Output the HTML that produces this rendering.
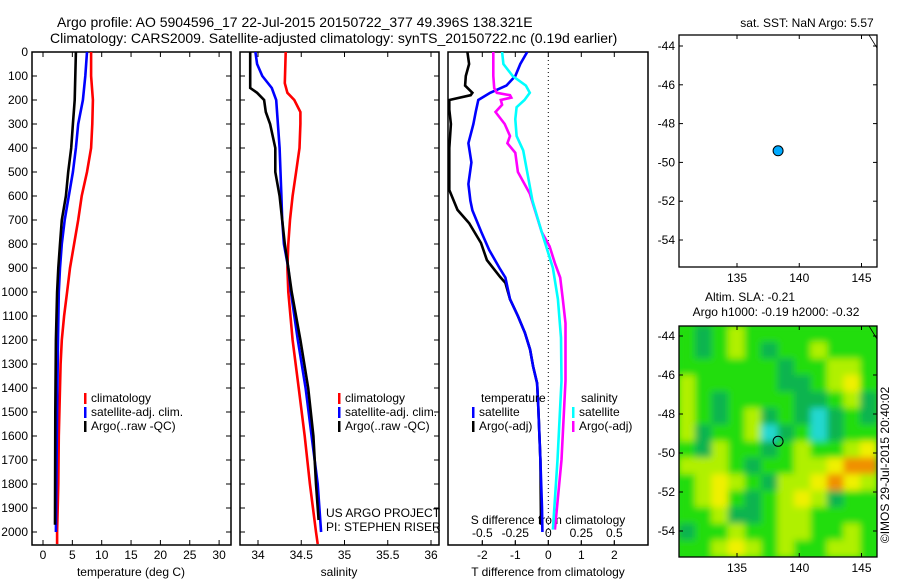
<!DOCTYPE html>
<html><head><meta charset="utf-8">
<style>
body{margin:0;background:#fff;}
svg{display:block;font-family:"Liberation Sans",sans-serif;font-size:12px;}
text{fill:#000;}
</style></head>
<body>
<svg id="fig" width="900" height="580" viewBox="0 0 900 580" xmlns="http://www.w3.org/2000/svg">
<defs>
<clipPath id="c1"><rect x="32" y="52" width="199" height="493"/></clipPath>
<clipPath id="c2"><rect x="240" y="52" width="199" height="493"/></clipPath>
<clipPath id="c3"><rect x="448" y="52" width="200" height="493"/></clipPath>
<clipPath id="cm"><rect x="679" y="326" width="198" height="231"/></clipPath>
<filter id="blur" x="0" y="0" width="100%" height="100%"><feGaussianBlur stdDeviation="3.5"/></filter>
</defs>
<text x="57" y="27" style="font-size:14px">Argo profile: AO 5904596_17 22-Jul-2015 20150722_377 49.396S 138.321E</text>
<text x="50" y="43" style="font-size:14px">Climatology: CARS2009. Satellite-adjusted climatology: synTS_20150722.nc (0.19d earlier)</text>
<g id="plots"></g>
</svg>
<script>
// ---- data ----
const tDepth = [0,100,200,300,400,500,600,700,800,900,1000,1100,1200,1300,1400,1600,1800,2000,2050];
const tClim  = [8.2,8.2,8.5,8.4,8.2,7.5,6.6,6.0,5.3,4.6,4.1,3.6,3.2,3.0,2.9,2.7,2.6,2.4,2.4];
const tSatDepth = [0,100,200,300,400,500,600,700,800,900,1000,1200,1500,2000];
const tSat  = [7.5,7.2,6.8,6.0,5.6,5.1,4.4,3.7,3.2,2.9,2.7,2.55,2.4,2.2];
const tArgoDepth = [0,200,300,400,500,600,700,800,900,1000,1200,1500,1970];
const tArgo = [5.6,5.4,5.1,4.8,4.3,3.9,3.2,2.9,2.6,2.4,2.2,2.1,2.05];

const sClimDepth = [0,130,170,200,250,300,400,500,600,700,800,900,1000,1200,1400,1600,1800,2000,2050];
const sClim = [34.32,34.31,34.34,34.42,34.49,34.49,34.48,34.44,34.40,34.37,34.35,34.34,34.35,34.40,34.47,34.54,34.60,34.67,34.69];
const sSatDepth = [0,50,100,150,200,300,400,500,600,700,800,900,1000,1200,1400,1600,1800,2000];
const sSat = [33.97,33.99,34.05,34.16,34.21,34.23,34.25,34.26,34.27,34.28,34.30,34.35,34.38,34.46,34.55,34.62,34.69,34.73];
const sArgoDepth = [0,150,170,200,250,300,400,500,600,700,800,900,1000,1200,1400,1600,1800,1950];
const sArgo = [33.91,33.91,33.99,34.07,34.09,34.14,34.20,34.20,34.25,34.28,34.31,34.35,34.39,34.49,34.58,34.64,34.67,34.70];

const dtArgoDepth = [0,50,100,140,170,180,200,240,300,400,500,575,658,713,796,867,937,962,1030,1100,1170,1240,1310,1380,1460,1700,1970];
const dtArgo = [-2.45,-2.4,-2.5,-2.52,-2.3,-2.35,-3.0,-3.0,-2.95,-3.0,-3.0,-3.0,-2.75,-2.4,-2.04,-1.86,-1.46,-1.3,-1.16,-0.92,-0.71,-0.55,-0.46,-0.34,-0.31,-0.24,-0.22];
const dtSatDepth = [0,50,100,140,170,200,250,300,380,460,550,620,660,750,825,900,940,1030,1100,1170,1240,1310,1380,1460,1700,1900,2000];
const dtSat = [-0.64,-0.85,-1.0,-1.27,-1.76,-2.12,-2.2,-2.27,-2.42,-2.33,-2.42,-2.36,-2.3,-2.03,-1.79,-1.48,-1.3,-1.16,-0.92,-0.71,-0.55,-0.46,-0.34,-0.31,-0.24,-0.19,-0.18];
const dsArgoDepth = [0,100,150,170,180,190,200,220,250,300,350,380,420,500,590,750,810,880,940,1030,1130,1370,1700,1990];
const dsArgo = [-0.417,-0.417,-0.41,-0.39,-0.29,-0.28,-0.36,-0.35,-0.40,-0.33,-0.29,-0.31,-0.25,-0.23,-0.14,-0.05,0.01,0.05,0.09,0.11,0.13,0.13,0.1,0.05];
const dsSatDepth = [0,50,100,140,170,200,230,280,350,410,620,750,900,1030,1190,1370,1700,1990];
const dsSat = [-0.35,-0.34,-0.27,-0.17,-0.14,-0.18,-0.24,-0.25,-0.24,-0.19,-0.12,-0.05,0.035,0.073,0.096,0.1,0.07,0.035];

const depthTicks = [0,100,200,300,400,500,600,700,800,900,1000,1100,1200,1300,1400,1500,1600,1700,1800,1900,2000];
const tTicks = [0,5,10,15,20,25,30];
const sTicks = [34,34.5,35,35.5,36];
const sTickLabels = ["34","34.5","35","35.5","36"];
const dtTicks = [-2,-1,0,1,2];
const dsTicks = [-0.5,-0.25,0,0.25,0.5];
const dsTickLabels = ["-0.5","-0.25","0","0.25","0.5"];
const latTicks = [-44,-46,-48,-50,-52,-54];
const lonTicks = [135,140,145];
const argoLon = [138.3];
const argoLat = [-49.4];
// SLA heatmap (coarse, rows top->bottom, -2 cyan ... 3 orange)
const slaGrid = [
 [0,-1,0,1,0,0,0,0,0,0,0,0],
 [0,-1,0,1,0,-1,0,0,1,0,0,0],
 [0,0,0,0,0,0,-1,0,0,1,1,0],
 [1,0,0,0,0,0,-1,-1,0,1,2,0],
 [1,0,-1,0,0,0,0,-1,-1,0,1,-1],
 [1,0,-1,0,1,-1,0,-1,-2,-1,0,-1],
 [1,-1,0,0,1,-2,-1,0,-2,-1,0,0],
 [0,-1,1,0,0,-1,0,1,0,0,1,2],
 [1,1,1,0,-1,0,0,1,1,2,3,3],
 [0,1,2,1,0,-1,1,1,2,3,2,1],
 [0,1,2,0,-1,0,1,2,1,-1,0,0],
 [0,0,1,-1,-1,0,1,1,0,0,0,0],
 [-1,0,0,1,0,0,1,1,0,0,1,0],
 [0,0,1,2,1,0,1,0,0,1,1,0]
];

// ---- helpers ----
const NS="http://www.w3.org/2000/svg";
const root=document.getElementById('plots');
function mk(tag,attrs,parent){const e=document.createElementNS(NS,tag);for(const k in attrs)e.setAttribute(k,attrs[k]);(parent||root).appendChild(e);return e;}
const Y=d=>52+d*0.24;
const xT=v=>43+v*5.87;
const xS=v=>258+(v-34)*86.5;
const xDT=v=>548.3+v*33;
const xDS=v=>548.3+v*132;
const lonX=v=>737+(v-135)*12.45;
const lat1Y=v=>46+(-44-v)*19.4;
const lat2Y=v=>336+(-44-v)*19.5;

function line(xs,ds,fx,color,clip,name){
  const pts=xs.map((v,i)=>fx(v).toFixed(1)+','+Y(ds[i]).toFixed(1)).join(' ');
  const p=mk('polyline',{points:pts,fill:'none',stroke:color,'stroke-width':2.6,'clip-path':'url(#'+clip+')'});
  
  
}
function panel(x0,name){
  const g=mk('rect',{x:x0,y:52,width:199,height:493,fill:'none',stroke:'#000','stroke-width':1.5});
  
  
  depthTicks.forEach(d=>{mk('line',{x1:x0,x2:x0+5,y1:Y(d),y2:Y(d),stroke:'#000'});mk('line',{x1:x0+199,x2:x0+194,y1:Y(d),y2:Y(d),stroke:'#000'});});
}
function xticks(vals,labels,fx,y,name){
  vals.forEach((v,i)=>{
    const x=fx(v);
    mk('line',{x1:x,x2:x,y1:545,y2:540,stroke:'#000'});
    mk('line',{x1:x,x2:x,y1:52,y2:57,stroke:'#000'});
    const t=mk('text',{x:x,y:y,'text-anchor':'middle'});t.textContent=labels[i];
    
    
  });
}
function label(txt,x,y,name,anchor){const t=mk('text',{x:x,y:y,'text-anchor':anchor||'start'});t.textContent=txt;
  
  return t;}
function legendItem(x,y,color,txt){
  const r=mk('rect',{x:x,y:y-9,width:2.5,height:11,fill:color});
  
  
  label(txt,x+7,y,'legend-entry');
}

// panel 1
panel(32,'temperature-panel');
depthTicks.forEach(d=>label(String(d),28,Y(d)+4,'depth-tick-label','end'));
xticks(tTicks,tTicks.map(String),xT,559,'temperature-tick-label');
line(tClim,tDepth,xT,'#ff0000','c1','temperature-climatology-line');
line(tSat,tSatDepth,xT,'#0000ff','c1','temperature-satellite-line');
line(tArgo,tArgoDepth,xT,'#000000','c1','temperature-argo-line');
label('temperature (deg C)',131,576,'x-axis-title-temperature','middle');
legendItem(84,402,'#ff0000','climatology');
legendItem(84,416,'#0000ff','satellite-adj. clim.');
legendItem(84,430,'#000000','Argo(..raw -QC)');

// panel 2
panel(240,'salinity-panel');
xticks(sTicks,sTickLabels,xS,559,'salinity-tick-label');
line(sClim,sClimDepth,xS,'#ff0000','c2','salinity-climatology-line');
line(sSat,sSatDepth,xS,'#0000ff','c2','salinity-satellite-line');
line(sArgo,sArgoDepth,xS,'#000000','c2','salinity-argo-line');
label('salinity',339,576,'x-axis-title-salinity','middle');
legendItem(338,402,'#ff0000','climatology');
legendItem(338,416,'#0000ff','satellite-adj. clim.');
legendItem(338,430,'#000000','Argo(..raw -QC)');
label('US ARGO PROJECT',326,517,'project-label');
label('PI: STEPHEN RISER',326,531,'pi-label');

// panel 3
const p3=mk('rect',{x:448,y:52,width:200,height:493,fill:'none',stroke:'#000','stroke-width':1.5});


mk('line',{x1:548.3,x2:548.3,y1:52,y2:545,stroke:'#000','stroke-dasharray':'1,3'});
dtTicks.forEach(v=>{const x=xDT(v);mk('line',{x1:x,x2:x,y1:545,y2:540,stroke:'#000'});mk('line',{x1:x,x2:x,y1:52,y2:57,stroke:'#000'});
  label(String(v),x,559,'t-diff-tick-label','middle');});
dsTicks.forEach((v,i)=>{const x=xDS(v);mk('line',{x1:x,x2:x,y1:541,y2:545,stroke:'#000'});
  label(dsTickLabels[i],x,537,'s-diff-tick-label','middle');});
label('S difference from climatology',548,524,'s-diff-axis-title','middle');
line(dtArgo,dtArgoDepth,xDT,'#000000','c3','t-diff-argo-line');
line(dtSat,dtSatDepth,xDT,'#0000ff','c3','t-diff-satellite-line');
line(dsArgo,dsArgoDepth,xDS,'#ff00ff','c3','s-diff-argo-line');
line(dsSat,dsSatDepth,xDS,'#00ffff','c3','s-diff-satellite-line');
label('T difference from climatology',548,576,'t-diff-axis-title','middle');
label('temperature',481,402,'legend-title-temperature');
label('salinity',581,402,'legend-title-salinity');
legendItem(472,416,'#0000ff','satellite');
legendItem(472,430,'#000000','Argo(-adj)');
legendItem(572,416,'#00ffff','satellite');
legendItem(572,430,'#ff00ff','Argo(-adj)');

// maps
function mapFrame(top,h,latY,name){
  const r=mk('rect',{x:679,y:top,width:198,height:h,fill:'none',stroke:'#000','stroke-width':1.3});
  
  
  latTicks.forEach(v=>{const y=latY(v);mk('line',{x1:679,x2:683,y1:y,y2:y,stroke:'#000'});mk('line',{x1:877,x2:873,y1:y,y2:y,stroke:'#000'});
    label(String(v),675,y+4,'latitude-tick-label','end');});
  lonTicks.forEach(v=>{const x=lonX(v);mk('line',{x1:x,x2:x,y1:top+h,y2:top+h-4,stroke:'#000'});mk('line',{x1:x,x2:x,y1:top,y2:top+4,stroke:'#000'});
    label(String(v),x,top+h+15,'longitude-tick-label','middle');});
}
// SLA heatmap
const colors={'-2':'#20d8d0','-1':'#10b450','0':'#20dd10','1':'#b0f000','2':'#f0f000','3':'#f09000'};
const hg=mk('g',{'clip-path':'url(#cm)'});


mk('rect',{x:679,y:326,width:198,height:231,fill:'#20dd10'},hg);
const hb=mk('g',{filter:'url(#blur)'},hg);
const cw=198/12, ch=231/14;
slaGrid.forEach((row,r)=>row.forEach((v,c)=>{
  const cell=mk('rect',{x:679+c*cw-0.5,y:326+r*ch-0.5,width:cw+1,height:ch+1,fill:colors[String(v)]},hb);
  
  
}));
mapFrame(35,232,lat1Y,'sst-map');
mapFrame(326,231,lat2Y,'sla-map');
mk('path',{d:'M869 35 L877 48 L877 35',fill:'none',stroke:'#000','stroke-width':0.8});
mk('path',{d:'M869 326 L877 339 L877 326',fill:'none',stroke:'#000','stroke-width':0.8});
argoLon.forEach((lon,i)=>{
  const m1=mk('circle',{cx:lonX(lon),cy:lat1Y(argoLat[i]),r:5,fill:'#00aaff',stroke:'#000','stroke-width':1});
  
  
  const m2=mk('circle',{cx:lonX(lon),cy:lat2Y(argoLat[i]),r:5,fill:'none',stroke:'#000','stroke-width':1});
  
  
});
label('sat. SST: NaN Argo: 5.57',807,27,'sst-map-title','middle');
label('Altim. SLA: -0.21',750,301,'sla-map-title','middle');
label('Argo h1000: -0.19 h2000: -0.32',776,316,'sla-map-subtitle','middle');
const cr=label('©IMOS 29-Jul-2015 20:40:02',0,0,'copyright-label','middle');
cr.setAttribute('transform','translate(889,465) rotate(-90)');
</script>
</body></html>
